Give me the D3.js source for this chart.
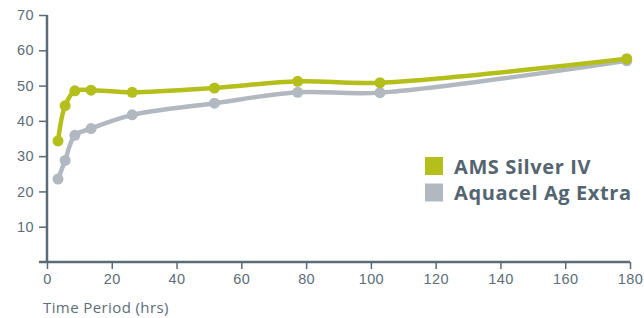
<!DOCTYPE html>
<html>
<head>
<meta charset="utf-8">
<script src="https://cdn.jsdelivr.net/npm/d3@7"></script>
<style>
  body { margin: 0; background: #fff; }
  svg { display: block; font-family: "Open Sans", "Noto Sans", sans-serif; }
</style>
</head>
<body>
<svg width="644" height="318"></svg>
<script>
// data
var hours = [3.4, 5.6, 8.6, 13.6, 26.3, 51.7, 77.4, 102.8, 179];
var amsSilver = [34.3, 44.3, 48.5, 48.7, 48.1, 49.3, 51.2, 50.8, 57.6];
var aquacel = [23.5, 28.8, 35.9, 37.8, 41.7, 45.0, 48.1, 48.0, 57.0];
var seriesNames = ["AMS Silver IV", "Aquacel Ag Extra"];
var colors = ["#b4bf1b", "#b1b8bf"];
var xTicks = [0, 20, 40, 60, 80, 100, 120, 140, 160, 180];
var yTicks = [10, 20, 30, 40, 50, 60, 70];

var axisColor = "#5b6c78";

var margin = {top: 15, right: 14, bottom: 56, left: 47},
    width = 644 - margin.left - margin.right,
    height = 318 - margin.top - margin.bottom;

var svg = d3.select("svg")
  .append("g")
    .attr("transform", "translate(" + margin.left + "," + margin.top + ")");

var x = d3.scaleLinear().domain([0, 180]).range([0, width]);
var y = d3.scaleLinear().domain([0, 70]).range([height, 0]);

// x axis
var gx = svg.append("g")
    .attr("transform", "translate(0," + height + ")")
    .call(d3.axisBottom(x).tickValues(xTicks).tickSize(7).tickPadding(5));
gx.select(".domain").attr("d", "M-8,0H" + width);

// y axis
var gy = svg.append("g")
    .call(d3.axisLeft(y).tickValues(yTicks).tickSize(8).tickPadding(5));
gy.select(".domain").attr("d", "M0,0V" + height);

[gx, gy].forEach(function(g) {
  g.selectAll(".domain").attr("stroke", axisColor).attr("stroke-width", 2.5);
  g.selectAll(".tick line").attr("stroke", axisColor).attr("stroke-width", 1.5);
  g.selectAll(".tick text").attr("fill", "#5d6d79")
      .style("font-size", "14.5px").style("letter-spacing", "0.4px");
});

svg.append("text")
    .attr("x", -4)
    .attr("y", height + 51)
    .attr("fill", "#5d6d79")
    .style("font-size", "15px")
    .style("letter-spacing", "0.4px")
    .text("Time Period (hrs)");

var line = d3.line()
    .x(function(d) { return x(d[0]); })
    .y(function(d) { return y(d[1]); })
    .curve(d3.curveCatmullRom.alpha(0.5));

var allSeries = [aquacel, amsSilver];
var allColors = [colors[1], colors[0]];

allSeries.forEach(function(vals, i) {
  var pts = hours.map(function(h, j) { return [h, vals[j]]; });
  svg.append("path")
      .attr("fill", "none")
      .attr("stroke", allColors[i])
      .attr("stroke-width", 4.5)
      .attr("stroke-linejoin", "round")
      .attr("d", line(pts));
  svg.selectAll(null)
      .data(pts)
    .enter().append("circle")
      .attr("cx", function(d) { return x(d[0]); })
      .attr("cy", function(d) { return y(d[1]); })
      .attr("r", 5.5)
      .attr("fill", allColors[i]);
});

// legend
var legend = svg.append("g")
    .attr("transform", "translate(" + (425 - margin.left) + "," + (157 - margin.top) + ")");
seriesNames.forEach(function(name, i) {
  var row = legend.append("g").attr("transform", "translate(0," + (i * 26.5) + ")");
  row.append("rect")
      .attr("width", 18)
      .attr("height", 18)
      .attr("fill", colors[i]);
  row.append("text")
      .attr("x", 29)
      .attr("y", 16.5)
      .attr("fill", "#546571")
      .style("font-size", "20px")
      .style("font-weight", "bold")
      .style("letter-spacing", "0.6px")
      .text(name);
});
</script>
</body>
</html>
